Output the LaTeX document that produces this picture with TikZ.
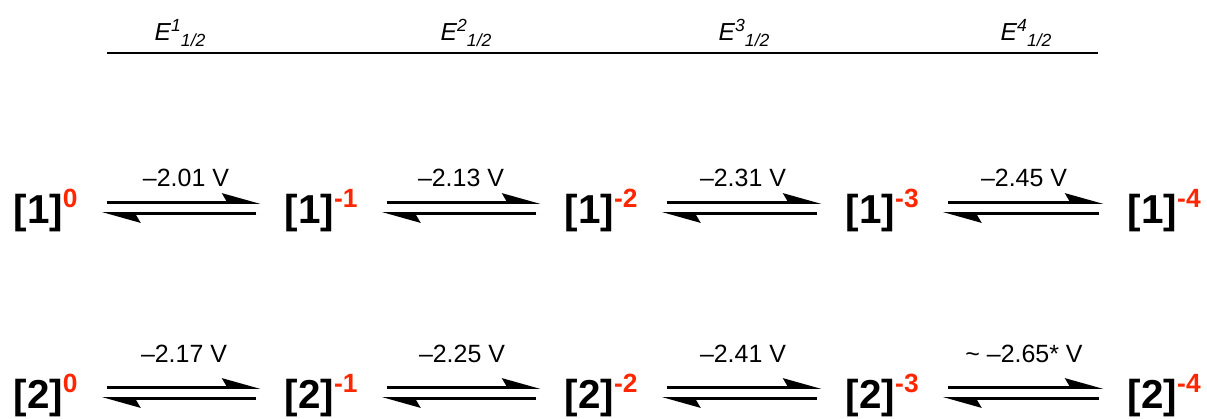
\documentclass[tikz,border=0pt]{standalone}
\usepackage{fontspec}
\setmainfont{Liberation Sans}
\usetikzlibrary{arrows.meta,calc,positioning}
\definecolor{chemred}{RGB}{255,38,0}
% charge of a species, red superscript
\newcommand{\chg}[1]{\raisebox{9pt}{\fontsize{15}{17}\selectfont\color{chemred}#1}}
% half-wave potential heading
\newcommand{\ehalf}[1]{\textit{E}\raisebox{4.6pt}{\fontsize{10}{12}\selectfont\itshape #1}\raisebox{-3.6pt}{\fontsize{10}{12}\selectfont\itshape 1/2}}

\begin{document}
\begin{tikzpicture}[x=0.02cm,y=-0.02cm,
species/.style={anchor=base east,inner sep=0pt,font=\fontsize{23}{26}\selectfont\bfseries},
pot/.style={anchor=base,inner sep=0pt,font=\fontsize{14.2}{16}\selectfont},
half/.style={anchor=base,inner sep=0pt,font=\fontsize{14}{16}\selectfont},
eq/.style={line width=1.6pt,-{Stealth[harpoon,length=19pt,width=10.5pt,inset=3pt]}}]
\useasboundingbox (0,0) rectangle (1207,419);
% headings
\node[half] (h1) at (180,40) {\ehalf{1}};
\node[half] (h2) at (466,40) {\ehalf{2}};
\node[half] (h3) at (744,40) {\ehalf{3}};
\node[half] (h4) at (1026,40) {\ehalf{4}};
\draw[line width=1.5pt] (107,53)--(1098,53);
% row 1
\node[species] (a0) at (78,223) {[1]\chg{0}};
\node[species] (a1) at (358,223) {[1]\chg{-1}};
\node[species] (a2) at (638,223) {[1]\chg{-2}};
\node[species] (a3) at (919,223) {[1]\chg{-3}};
\node[species] (a4) at (1201,223) {[1]\chg{-4}};
\node[pot] at (186,186) {\textendash2.01 V};
\node[pot] at (461,186) {\textendash2.13 V};
\node[pot] at (743,186) {\textendash2.31 V};
\node[pot] at (1024,186) {\textendash2.45 V};
\draw[eq] ($(a0.base east)+(29,-20.5)$)--($(a1.base west)+(-24,-20.5)$);
\draw[eq] ($(a1.base west)+(-28,-9.5)$)--($(a0.base east)+(24,-9.5)$);
\draw[eq] ($(a1.base east)+(29,-20.5)$)--($(a2.base west)+(-24,-20.5)$);
\draw[eq] ($(a2.base west)+(-28,-9.5)$)--($(a1.base east)+(24,-9.5)$);
\draw[eq] ($(a2.base east)+(29,-20.5)$)--($(a3.base west)+(-24,-20.5)$);
\draw[eq] ($(a3.base west)+(-28,-9.5)$)--($(a2.base east)+(24,-9.5)$);
\draw[eq] ($(a3.base east)+(29,-20.5)$)--($(a4.base west)+(-24,-20.5)$);
\draw[eq] ($(a4.base west)+(-28,-9.5)$)--($(a3.base east)+(24,-9.5)$);
% row 2
\node[species] (b0) at (78,408) {[2]\chg{0}};
\node[species] (b1) at (358,408) {[2]\chg{-1}};
\node[species] (b2) at (638,408) {[2]\chg{-2}};
\node[species] (b3) at (919,408) {[2]\chg{-3}};
\node[species] (b4) at (1201,408) {[2]\chg{-4}};
\node[pot] at (184,362) {\textendash2.17 V};
\node[pot] at (462,362) {\textendash2.25 V};
\node[pot] at (743,362) {\textendash2.41 V};
\node[pot] at (1024,362) {\textasciitilde\ \textendash2.65* V};
\draw[eq] ($(b0.base east)+(29,-20.5)$)--($(b1.base west)+(-24,-20.5)$);
\draw[eq] ($(b1.base west)+(-28,-9.5)$)--($(b0.base east)+(24,-9.5)$);
\draw[eq] ($(b1.base east)+(29,-20.5)$)--($(b2.base west)+(-24,-20.5)$);
\draw[eq] ($(b2.base west)+(-28,-9.5)$)--($(b1.base east)+(24,-9.5)$);
\draw[eq] ($(b2.base east)+(29,-20.5)$)--($(b3.base west)+(-24,-20.5)$);
\draw[eq] ($(b3.base west)+(-28,-9.5)$)--($(b2.base east)+(24,-9.5)$);
\draw[eq] ($(b3.base east)+(29,-20.5)$)--($(b4.base west)+(-24,-20.5)$);
\draw[eq] ($(b4.base west)+(-28,-9.5)$)--($(b3.base east)+(24,-9.5)$);
\end{tikzpicture}
\end{document}
